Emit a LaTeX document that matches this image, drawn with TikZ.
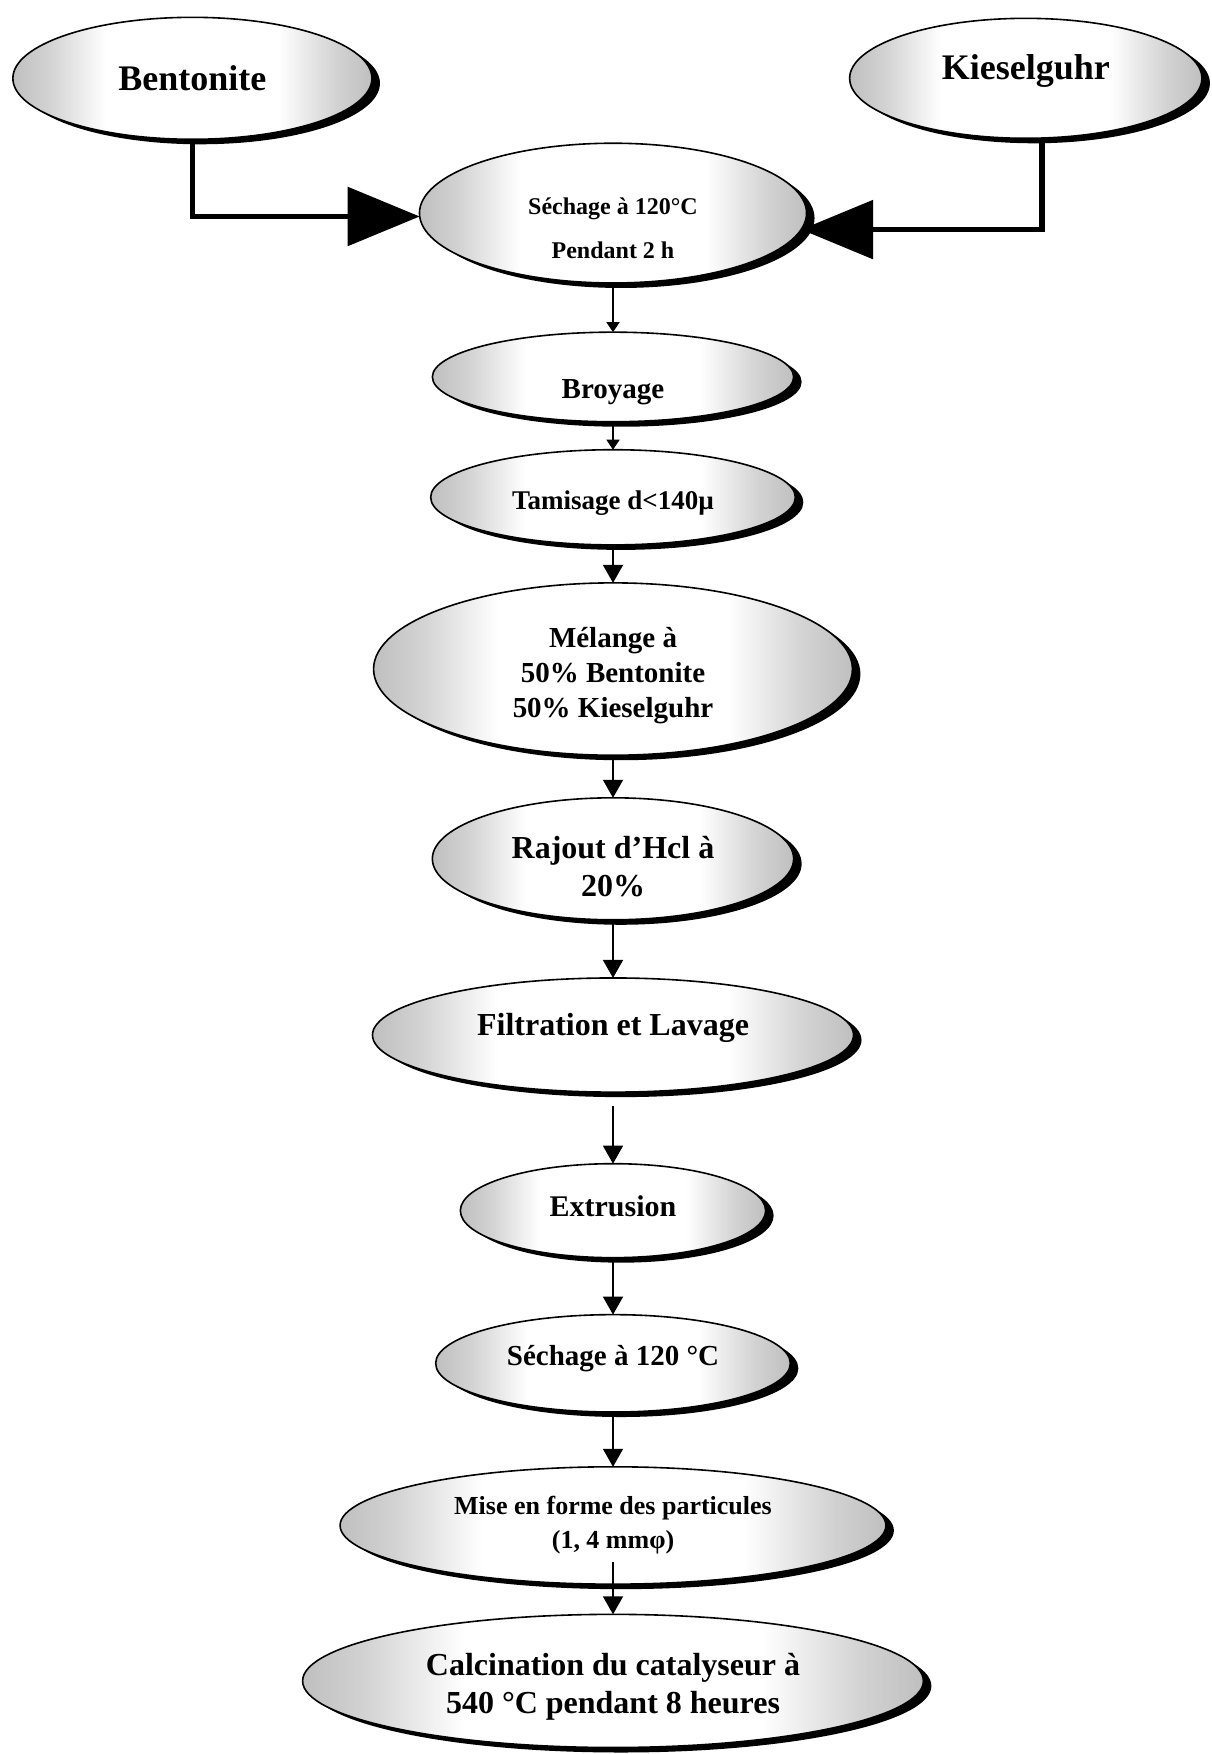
\documentclass[tikz,border=0pt]{standalone}
\usepackage{fontspec}
\setmainfont{Liberation Serif}
\usetikzlibrary{positioning,arrows.meta,shapes,shadows}

\pgfdeclarehorizontalshading{ombre}{100bp}{color(0bp)=(gray!50); color(25bp)=(gray!50);
  color(30bp)=(gray!35); color(38bp)=(white); color(62bp)=(white);
  color(70bp)=(gray!35); color(75bp)=(gray!50); color(100bp)=(gray!50)}

\begin{document}
\begin{tikzpicture}[
  x=0.5595pt, y=-0.5595pt,
  font=\bfseries,
  etape/.style={ellipse, draw, line width=0.8pt, inner sep=0pt, outer sep=0pt, align=center,
    shading=ombre,
    drop shadow={shadow xshift=4pt, shadow yshift=-2.5pt, fill=black, opacity=1}},
  fl/.style={-{Triangle[width=10pt, length=9pt]}, line width=0.75pt},
  petit/.style={-{Triangle[width=6.5pt, length=5pt]}, line width=0.75pt},
  gros/.style={-{Triangle[width=29pt, length=36pt]}, line width=2.8pt}
]
\useasboundingbox (0,0) rectangle (1083,1568);

% matieres premieres
\node[etape, minimum width=179.6pt, minimum height=61pt, font=\bfseries\fontsize{18}{21}\selectfont] (bent) at (172,70) {Bentonite};
\node[etape, minimum width=176.2pt, minimum height=60pt, font=\bfseries\fontsize{18}{21}\selectfont] (kies) at (917,70) {Kieselguhr\rule[-11pt]{0pt}{11pt}};

% chaine de preparation
\node[etape, minimum width=193.6pt, minimum height=69.9pt, font=\bfseries\fontsize{12}{22}\selectfont] (sech1) at (548,190.5) {\rule{0pt}{23.6pt}Séchage à 120°C\\Pendant 2 h};
\node[etape, minimum width=180.7pt, minimum height=44.8pt, font=\bfseries\fontsize{14.5}{17}\selectfont, below=24.6pt of sech1] (broy) {\rule{0pt}{24.5pt}Broyage};
\node[etape, minimum width=182.4pt, minimum height=47.6pt, font=\bfseries\fontsize{13.5}{16}\selectfont, below=14pt of broy] (tam) {\rule{0pt}{15.4pt}Tamisage d<140µ};
\node[etape, minimum width=239.5pt, minimum height=86.2pt, font=\bfseries\fontsize{14.5}{17.5}\selectfont, below=19pt of tam] (mel) {\rule{0pt}{16.2pt}Mélange à\\50\% Bentonite\\50\% Kieselguhr};
\node[etape, minimum width=180.7pt, minimum height=61pt, font=\bfseries\fontsize{16}{19}\selectfont, below=21.3pt of mel] (raj) {\rule{0pt}{18.7pt}Rajout d’Hcl à\\20\%};
\node[etape, minimum width=240.6pt, minimum height=57.1pt, font=\bfseries\fontsize{16}{19}\selectfont, below=29.1pt of raj] (fil) {Filtration et Lavage\rule[-10.3pt]{0pt}{10.3pt}};
\node[etape, minimum width=152.7pt, minimum height=47pt, font=\bfseries\fontsize{15}{18}\selectfont, below=35.8pt of fil] (ext) {Extrusion\rule[-4.4pt]{0pt}{4.4pt}};
\node[etape, minimum width=177.4pt, minimum height=48.7pt, font=\bfseries\fontsize{14.5}{17}\selectfont, below=28.5pt of ext] (sech2) {Séchage à 120 °C\rule[-7.5pt]{0pt}{7.5pt}};
\node[etape, minimum width=273pt, minimum height=58.7pt, font=\bfseries\fontsize{13}{17}\selectfont, below=27.4pt of sech2] (mise) {Mise en forme des particules\\(1, 4 mmφ)};
\node[etape, minimum width=310.5pt, minimum height=66.6pt, font=\bfseries\fontsize{16}{19}\selectfont, below=15.1pt of mise] (calc) {\rule{0pt}{17.1pt}Calcination du catalyseur à\\540 °C pendant 8 heures};

% fleches
\draw[gros] (bent.south) |- (sech1.181);
\draw[gros] ([xshift=8pt]kies.south) |- (sech1.-5);
\draw[petit] (sech1.south) -- (broy.north);
\draw[petit] (broy.south) -- (tam.north);
\draw[fl] (tam.south) -- (mel.north);
\draw[fl] (mel.south) -- (raj.north);
\draw[fl] (raj.south) -- (fil.north);
\draw[fl] ([yshift=-7pt]fil.south) -- (ext.north);
\draw[fl] (ext.south) -- (sech2.north);
\draw[fl] (sech2.south) -- (mise.north);
\draw[fl] ([yshift=11pt]mise.south) -- (calc.north);
\end{tikzpicture}
\end{document}
